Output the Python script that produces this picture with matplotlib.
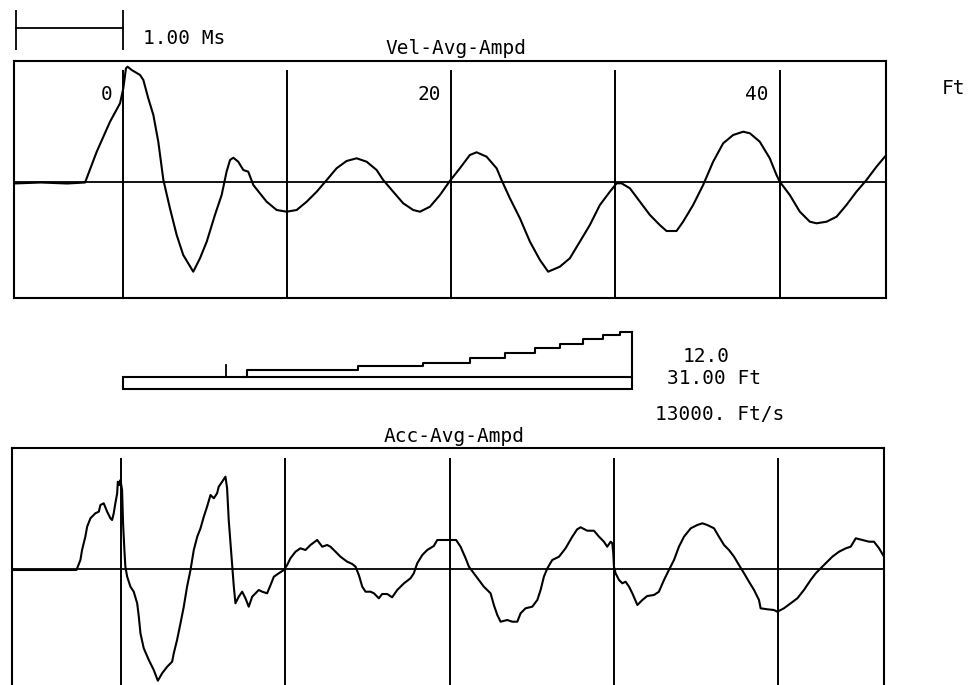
import numpy as np
import matplotlib.pyplot as plt
from matplotlib.patches import Rectangle

# ---- traced signals (depth in ft, amplitude in arbitrary units) ----
vel_ft = [-6.67, -5.0, -3.4, -2.31, -1.60, -0.79, -0.18, 0.02, 0.18, 0.28, 0.53, 1.04, 1.24,
          1.54, 1.85, 2.15, 2.46, 2.86, 3.27, 3.67, 4.28, 4.69, 5.10, 5.60, 6.01, 6.31, 6.52,
          6.72, 7.02, 7.33, 7.63, 7.94, 8.34, 8.75, 9.36, 9.97, 10.58, 11.19, 11.80, 12.41,
          13.01, 13.62, 14.23, 14.84, 15.45, 15.85, 16.46, 17.07, 17.68, 18.09, 18.70, 19.31,
          19.91, 20.52, 21.13, 21.54, 22.15, 22.76, 23.06, 23.57, 24.18, 24.79, 25.40, 25.90,
          26.61, 27.22, 27.83, 28.44, 29.05, 29.66, 30.07, 30.37, 30.88, 31.49, 32.10, 32.70,
          33.11, 33.72, 34.12, 34.73, 35.34, 35.95, 36.56, 37.17, 37.78, 38.19, 38.79, 39.40,
          39.81, 40.01, 40.62, 41.23, 41.84, 42.25, 42.86, 43.47, 44.07, 44.68, 45.29, 45.90,
          46.41]
vel_amp = [-0.02, -0.01, -0.02, -0.01, 0.298, 0.598, 0.782, 0.932, 1.132, 1.148, 1.115, 1.065,
           1.015, 0.832, 0.665, 0.398, 0.015, -0.268, -0.535, -0.735, -0.902, -0.768, -0.602,
           -0.335, -0.135, 0.098, 0.215, 0.238, 0.198, 0.115, 0.098, -0.035, -0.118, -0.202,
           -0.285, -0.302, -0.285, -0.202, -0.102, 0.015, 0.132, 0.205, 0.232, 0.198, 0.115,
           0.015, -0.102, -0.218, -0.285, -0.302, -0.252, -0.135, 0.005, 0.132, 0.265, 0.292,
           0.248, 0.132, 0.015, -0.168, -0.368, -0.602, -0.785, -0.902, -0.852, -0.768, -0.602,
           -0.435, -0.235, -0.102, -0.018, -0.018, -0.068, -0.202, -0.335, -0.435, -0.495,
           -0.495, -0.402, -0.235, -0.035, 0.198, 0.382, 0.465, 0.498, 0.482, 0.398, 0.232,
           0.065, -0.002, -0.135, -0.302, -0.402, -0.418, -0.402, -0.352, -0.235, -0.102, 0.015,
           0.148, 0.248]

acc_ft = [-6.66, -2.74, -2.50, -2.40, -2.20, -2.09, -1.89, -1.59, -1.38, -1.28, -1.08, -0.87,
          -0.67, -0.57, -0.47, -0.37, -0.26, -0.22, -0.12, -0.06, 0.04, 0.10, 0.18, 0.24, 0.35,
          0.55, 0.75, 0.96, 1.06, 1.16, 1.36, 1.67, 1.97, 2.22, 2.48, 2.79, 3.09, 3.19, 3.39,
          3.60, 3.80, 4.00, 4.21, 4.41, 4.62, 4.82, 5.02, 5.22, 5.43, 5.63, 5.83, 5.93, 6.14,
          6.34, 6.44, 6.54, 6.71, 6.85, 6.95, 7.15, 7.36, 7.56, 7.76, 7.97, 8.17, 8.37, 8.58,
          8.88, 9.09, 9.29, 9.59, 9.90, 10.10, 10.30, 10.61, 10.91, 11.22, 11.52, 11.93, 12.24,
          12.54, 12.74, 13.05, 13.35, 13.76, 14.07, 14.27, 14.47, 14.68, 14.88, 15.18, 15.39,
          15.69, 15.89, 16.20, 16.50, 16.81, 17.22, 17.62, 17.82, 18.03, 18.34, 18.64, 19.04,
          19.25, 20.40, 20.67, 20.98, 21.18, 21.48, 21.79, 22.09, 22.50, 22.70, 22.91, 23.11,
          23.52, 23.82, 24.13, 24.33, 24.63, 25.04, 25.35, 25.55, 25.75, 25.96, 26.26, 26.67,
          27.07, 27.48, 27.78, 27.99, 28.39, 28.80, 29.11, 29.41, 29.61, 29.82, 29.92, 29.98,
          30.02, 30.12, 30.33, 30.53, 30.73, 30.94, 31.14, 31.45, 31.75, 32.05, 32.46, 32.76,
          33.07, 33.37, 33.68, 33.98, 34.29, 34.70, 35.10, 35.41, 35.71, 36.12, 36.42, 36.73,
          37.03, 37.34, 37.64, 37.95, 38.25, 38.56, 38.86, 38.96, 39.37, 39.77, 39.98, 40.38,
          40.79, 41.20, 41.60, 42.01, 42.32, 42.62, 42.93, 43.33, 43.74, 44.15, 44.45, 44.76,
          45.16, 45.57, 45.87, 46.18, 46.48]
acc_amp = [-0.015, -0.015, 0.085, 0.185, 0.318, 0.418, 0.502, 0.552, 0.568, 0.635, 0.652, 0.568,
           0.502, 0.485, 0.552, 0.652, 0.752, 0.868, 0.835, 0.885, 0.785, 0.452, 0.185, 0.018,
           -0.082, -0.182, -0.232, -0.348, -0.482, -0.648, -0.798, -0.915, -1.015, -1.122,
           -1.048, -0.982, -0.932, -0.848, -0.715, -0.548, -0.382, -0.182, -0.015, 0.185, 0.318,
           0.402, 0.518, 0.618, 0.735, 0.702, 0.752, 0.818, 0.868, 0.918, 0.802, 0.485, 0.118,
           -0.182, -0.348, -0.282, -0.232, -0.298, -0.382, -0.282, -0.248, -0.215, -0.232,
           -0.248, -0.165, -0.082, -0.048, -0.015, 0.035, 0.102, 0.168, 0.202, 0.185, 0.235,
           0.285, 0.218, 0.235, 0.218, 0.168, 0.118, 0.068, 0.045, 0.018, -0.065, -0.182, -0.232,
           -0.232, -0.248, -0.298, -0.255, -0.255, -0.288, -0.215, -0.148, -0.098, -0.048, 0.052,
           0.135, 0.185, 0.225, 0.285, 0.285, 0.218, 0.102, 0.018, -0.048, -0.115, -0.182,
           -0.248, -0.365, -0.465, -0.532, -0.515, -0.532, -0.532, -0.448, -0.398, -0.382,
           -0.315, -0.215, -0.082, 0.002, 0.085, 0.118, 0.202, 0.318, 0.392, 0.412, 0.378, 0.378,
           0.318, 0.268, 0.218, 0.268, 0.252, 0.152, 0.018, -0.048, -0.115, -0.148, -0.132,
           -0.182, -0.248, -0.365, -0.315, -0.275, -0.265, -0.232, -0.115, -0.015, 0.085, 0.218,
           0.318, 0.402, 0.435, 0.452, 0.435, 0.402, 0.318, 0.235, 0.185, 0.118, 0.035, -0.048,
           -0.132, -0.215, -0.315, -0.398, -0.408, -0.415, -0.432, -0.398, -0.348, -0.298,
           -0.215, -0.115, -0.048, 0.002, 0.052, 0.118, 0.168, 0.202, 0.218, 0.302, 0.285, 0.268,
           0.268, 0.202, 0.118]

grid_ft = [0, 10, 20, 30, 40]
label_ft = [0, 20, 40]
depth_labels = ['0', '20', '40']

# ---- pile profile ----
pile_length = 31.00
wave_speed = 13000.
scale_ms = 1.00
info_value = '12.0'
marker_ft = 6.27
profile_ft = [7.3, 7.55, 14.31, 18.27, 21.13, 23.26, 25.09, 26.61, 28.01, 29.23, 30.27]
profile_level = [0, 7, 11, 14, 19, 24, 29, 33, 38, 42, 45]

# ---- layout ----
W, H = 970, 685
mono = 'DejaVu Sans Mono'
fs = 14
lw = 1.5


def box(l, t, r, b):
    return [l / W, 1 - b / H, (r - l) / W, (b - t) / H]


fig = plt.figure(figsize=(W / 100, H / 100), dpi=100)
xlim = (-6.67, 46.48)

ax_v = fig.add_axes(box(13.5, 61, 886, 298))
ax_a = fig.add_axes(box(12, 448, 884, 688.5))
ax_p = fig.add_axes(box(13.5, 320, 886, 400))

for ax, ft, amp, ylim, gtop in [(ax_v, vel_ft, vel_amp, (-1.165, 1.205), 1.115),
                                (ax_a, acc_ft, acc_amp, (-1.2, 1.205), 1.105)]:
    ax.plot(ft, amp, color='black', lw=lw)
    ax.axhline(0, color='black', lw=1.3)
    ax.vlines(grid_ft, ylim[0], gtop, color='black', lw=1.4)
    ax.set_xlim(xlim)
    ax.set_ylim(ylim)
    ax.set_xticks([])
    ax.set_yticks([])
    for s in ax.spines.values():
        s.set_linewidth(1.5)

for f, lab in zip(label_ft, depth_labels):
    ax_v.text(f - 0.65, 0.865, lab, ha='right', va='center', family=mono, fontsize=fs)
ax_v.text(49.9, 0.935, 'Ft', ha='left', va='center', family=mono, fontsize=fs, clip_on=False)

# time scale bar: 1 ms of two-way travel
bar_ft = scale_ms / 1000 * wave_speed / 2
ax_v.plot([-bar_ft, 0], [1.535, 1.535], color='black', lw=1.3, clip_on=False)
ax_v.vlines([-bar_ft, 0], 1.315, 1.715, color='black', lw=1.3, clip_on=False)

fig.text(143 / W, 1 - 39 / H, f'{scale_ms:.2f} Ms', ha='left', va='center', family=mono, fontsize=fs)
fig.text(456 / W, 1 - 49 / H, 'Vel-Avg-Ampd', ha='center', va='center', family=mono, fontsize=fs)
fig.text(454 / W, 1 - 437 / H, 'Acc-Avg-Ampd', ha='center', va='center', family=mono, fontsize=fs)

# pile profile
ax_p.set_xlim(xlim)
ax_p.set_ylim(-23, 57)
ax_p.axis('off')
ax_p.add_patch(Rectangle((0, -12.5), pile_length, 12.5, fill=False, lw=lw, ec='black'))
ax_p.step(profile_ft + [pile_length], profile_level + [profile_level[-1]], where='post',
          color='black', lw=lw)
ax_p.plot([pile_length, pile_length], [0, profile_level[-1]], color='black', lw=lw)
ax_p.plot([marker_ft, marker_ft], [0, 12], color='black', lw=1.3)

fig.text(706 / W, 1 - 357 / H, info_value, ha='center', va='center', family=mono, fontsize=fs)
fig.text(667 / W, 1 - 379 / H, f'{pile_length:.2f} Ft', ha='left', va='center', family=mono, fontsize=fs)
fig.text(655 / W, 1 - 415 / H, f'{wave_speed:.0f}. Ft/s', ha='left', va='center', family=mono, fontsize=fs)

fig.savefig('out.png', dpi=100, facecolor='white')
